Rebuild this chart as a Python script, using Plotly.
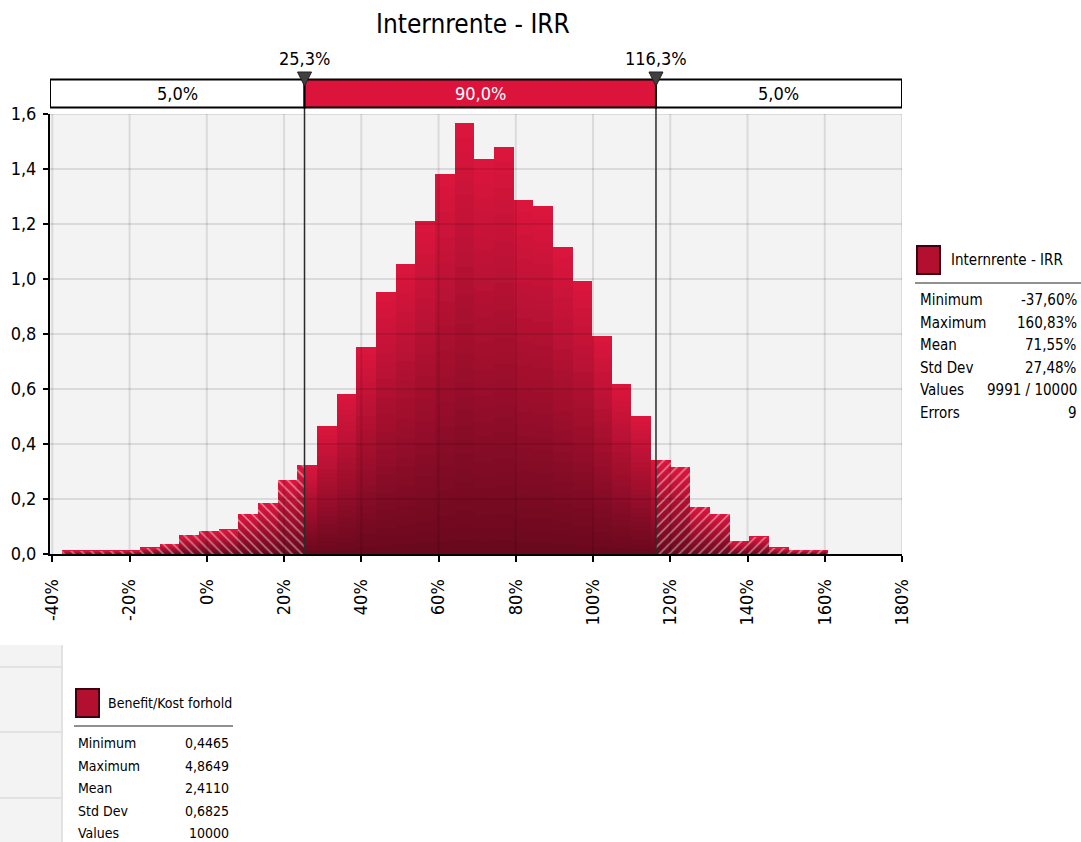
import plotly.graph_objects as go

# ---------------- data ----------------
title_text = "Internrente - IRR"
x_min = -37.60
x_max = 160.83
heights = [0.012, 0.012, 0.012, 0.012, 0.022, 0.036, 0.068, 0.083, 0.088, 0.144,
           0.184, 0.270, 0.325, 0.465, 0.582, 0.753, 0.953, 1.055, 1.211, 1.382,
           1.567, 1.436, 1.480, 1.287, 1.265, 1.116, 0.993, 0.793, 0.618, 0.502,
           0.342, 0.316, 0.171, 0.145, 0.047, 0.062, 0.022, 0.014, 0.014]
cut_lo = 25.3
cut_hi = 116.3
range_labels = ["5,0%", "90,0%", "5,0%"]
x_tickvals = [-40, -20, 0, 20, 40, 60, 80, 100, 120, 140, 160, 180]
x_ticktext = ["-40%", "-20%", "0%", "20%", "40%", "60%", "80%", "100%", "120%", "140%", "160%", "180%"]
y_tickvals = [0.0, 0.2, 0.4, 0.6, 0.8, 1.0, 1.2, 1.4, 1.6]
x_range = [-40.6, 180]
y_range = [0, 1.6]

stats1_name = "Internrente - IRR"
stats1_labels = ["Minimum", "Maximum", "Mean", "Std Dev", "Values", "Errors"]
stats1_values = ["-37,60%", "160,83%", "71,55%", "27,48%", "9991 / 10000", "9"]
stats2_name = "Benefit/Kost forhold"
stats2_labels = ["Minimum", "Maximum", "Mean", "Std Dev", "Values"]
stats2_values = ["0,4465", "4,8649", "2,4110", "0,6825", "10000"]

# ---------------- layout geometry (pixel coords) ----------------
W, H = 1081, 842
L, R, T, B = 50, 902, 114, 554
FONT = "Tahoma, 'DejaVu Sans Condensed', 'DejaVu Sans', sans-serif"

def px(xp):
    return (xp - L) / (R - L)

def py(yp):
    return (B - yp) / (B - T)

n_bins = len(heights)
bw = (x_max - x_min) / n_bins
lefts = [x_min + bw * k for k in range(n_bins)]
centers = [l + bw / 2 for l in lefts]

dark = (0x68, 0x08, 0x1D)
bright = (0xDD, 0x16, 0x3E)

def mix(t):
    return "rgb(%d,%d,%d)" % tuple(round(d + (b - d) * t) for d, b in zip(dark, bright))

fig = go.Figure()

# gradient bars: stacked slices
N = 30
for j in range(N):
    fig.add_trace(go.Bar(
        x=centers, y=[h / N for h in heights], base=[h * j / N for h in heights],
        width=[bw] * n_bins, marker=dict(color=mix((j + 0.5) / N), line=dict(width=0)),
        showlegend=False, hoverinfo="skip"))

# hatched tails
lx, lw, lh = [], [], []
rx, rw, rh = [], [], []
for l, h in zip(lefts, heights):
    r = l + bw
    if l < cut_lo:
        e = min(r, cut_lo)
        lx.append((l + e) / 2); lw.append(e - l); lh.append(h)
    if r > cut_hi:
        s = max(l, cut_hi)
        rx.append((s + r) / 2); rw.append(r - s); rh.append(h)

for xs, ws, hs, shp in [(lx, lw, lh, "\\"), (rx, rw, rh, "/")]:
    fig.add_trace(go.Bar(
        x=xs, y=hs, width=ws,
        marker=dict(color="rgba(0,0,0,0)", line=dict(width=0),
                    pattern=dict(shape=shp, fgcolor="white", bgcolor="rgba(0,0,0,0)",
                                 size=7, solidity=0.22, fillmode="overlay")),
        showlegend=False, hoverinfo="skip"))

shapes = []
# gridlines drawn over bars (translucent)
for v in x_tickvals:
    shapes.append(dict(type="line", xref="x", yref="paper", x0=v, x1=v, y0=0, y1=1,
                       line=dict(color="rgba(0,0,0,0.10)", width=2), layer="above"))
for v in y_tickvals[1:]:
    shapes.append(dict(type="line", xref="paper", yref="y", x0=0, x1=1, y0=v, y1=v,
                       line=dict(color="rgba(0,0,0,0.10)", width=2), layer="above"))

# cut lines
for c in (cut_lo, cut_hi):
    shapes.append(dict(type="line", xref="x", yref="paper", x0=c, x1=c, y0=0, y1=py(80),
                       line=dict(color="#2a2a2a", width=1.5), layer="above"))

# range bar
bar_y0, bar_y1 = py(107.5), py(79.5)
segs = [(x_range[0], cut_lo, "white"), (cut_lo, cut_hi, "#DC143C"), (cut_hi, x_range[1], "white")]
for (a, b, col) in segs:
    shapes.append(dict(type="rect", xref="x", yref="paper", x0=a, x1=b, y0=bar_y0, y1=bar_y1,
                       fillcolor=col, line=dict(color="black", width=2), layer="above"))

# triangles
for c in (cut_lo, cut_hi):
    shapes.append(dict(type="path", xref="x", yref="paper", xsizemode="pixel", ysizemode="pixel",
                       xanchor=c, yanchor=py(86), path="M-7,14 L7,14 L0,0 Z",
                       fillcolor="#404040", line=dict(color="#202020", width=1), layer="above"))

annotations = []

def ann(x, y, text, size, color="black", xanchor="center", xref="paper", yref="paper"):
    annotations.append(dict(x=x, y=y, xref=xref, yref=yref, text=text, showarrow=False,
                            xanchor=xanchor, yanchor="middle",
                            font=dict(family=FONT, size=size, color=color)))

for (a, b, col), lab in zip(segs, range_labels):
    ann((a + b) / 2, (bar_y0 + bar_y1) / 2, lab, 18,
        color="white" if col != "white" else "black", xref="x")
for c in (cut_lo, cut_hi):
    ann(c, py(58), ("%.1f%%" % c).replace(".", ","), 18, xref="x")

# title
ann(px(473), py(24), title_text, 26)

# stats panels
def stats_panel(x0, x1, icon_y, name, labels, values, row0, dy, fsize, text_dx, lab_dx):
    shapes.append(dict(type="rect", xref="paper", yref="paper",
                       x0=px(x0 + 2), x1=px(x0 + 25), y0=py(icon_y + 14), y1=py(icon_y - 14),
                       fillcolor="#B3102F", line=dict(color="#3C0010", width=2)))
    ann(px(x0 + text_dx), py(icon_y), name, fsize, xanchor="left")
    shapes.append(dict(type="line", xref="paper", yref="paper", x0=px(x0), x1=px(x1),
                       y0=py(icon_y + 23), y1=py(icon_y + 23),
                       line=dict(color="#909090", width=2)))
    for i, (lab, val) in enumerate(zip(labels, values)):
        yy = py(row0 + dy * i)
        ann(px(x0 + lab_dx), yy, lab, fsize, xanchor="left")
        ann(px(x1 - 2), yy, val, fsize, xanchor="right")

stats_panel(915, 1081, 260, stats1_name, stats1_labels, stats1_values, 300, 22.5, 15, 34, 3)

# bottom-left grey panel
shapes.append(dict(type="rect", xref="paper", yref="paper", x0=px(0), x1=px(62),
                   y0=py(842), y1=py(645), fillcolor="#F3F3F3", line=dict(width=0)))
shapes.append(dict(type="line", xref="paper", yref="paper", x0=px(62), x1=px(62),
                   y0=py(842), y1=py(645), line=dict(color="#E2E2E2", width=2)))
for yy in (667, 732, 798):
    shapes.append(dict(type="line", xref="paper", yref="paper", x0=px(0), x1=px(61),
                       y0=py(yy), y1=py(yy), line=dict(color="#E2E2E2", width=2)))

stats_panel(74, 233, 703, stats2_name, stats2_labels, stats2_values, 743, 22.5, 14, 32, 2)

fig.update_layout(
    width=W, height=H, autosize=False,
    margin=dict(l=L, r=W - R, t=T, b=H - B, pad=0),
    paper_bgcolor="white", plot_bgcolor="#F3F3F3",
    barmode="overlay", bargap=0, separators=",.",
    font=dict(family=FONT, size=18, color="black"),
    shapes=shapes, annotations=annotations,
)
fig.update_xaxes(range=x_range, tickmode="array", tickvals=x_tickvals, ticktext=x_ticktext,
                 tickangle=-90, automargin=False,
                 showgrid=False, zeroline=False, showline=True, linecolor="black", linewidth=2,
                 ticks="outside", ticklen=6, tickwidth=2, tickcolor="black",
                 tickfont=dict(family=FONT, size=18), ticklabelstandoff=10)
fig.update_yaxes(range=y_range, tickvals=y_tickvals, tickformat=".1f", automargin=False,
                 showgrid=False, zeroline=False, showline=True, linecolor="black", linewidth=2,
                 ticks="outside", ticklen=5, tickwidth=2, tickcolor="black",
                 tickfont=dict(family=FONT, size=18), ticklabelstandoff=3)

fig.write_html(
    "out.html",
    config={"displayModeBar": False},
    post_script="document.body.style.margin='0';document.body.style.overflow='hidden';",
)
